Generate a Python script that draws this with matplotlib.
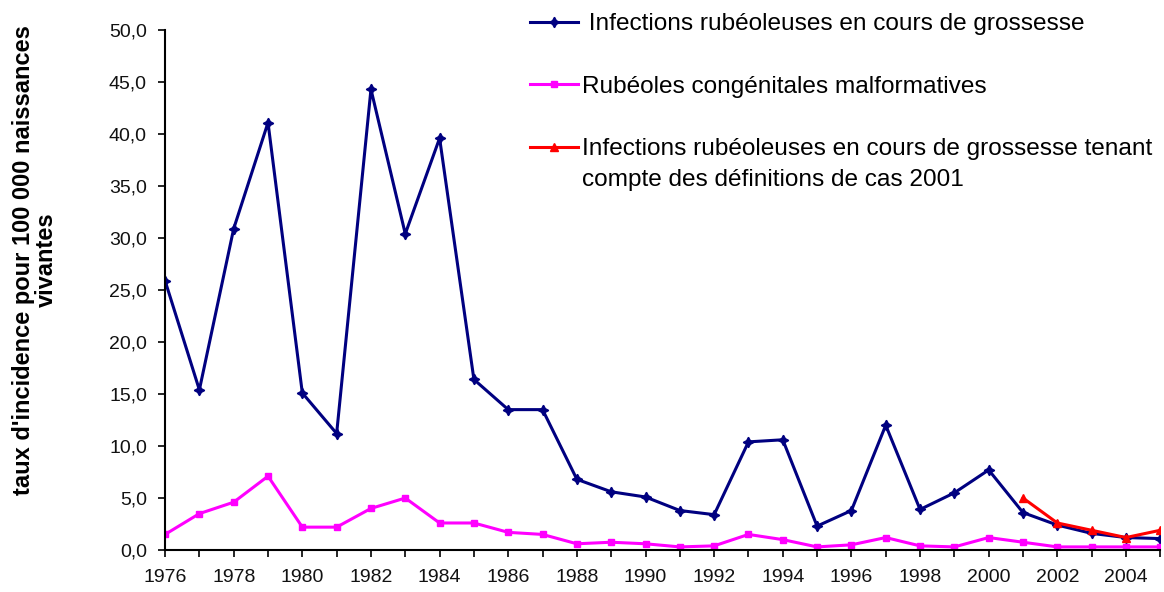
import matplotlib
matplotlib.use('Agg')
import matplotlib.pyplot as plt
from matplotlib.ticker import FuncFormatter, MultipleLocator
import numpy as np

plt.rcParams['font.family'] = ['Liberation Sans', 'DejaVu Sans']

years = list(range(1976, 2006))
infections = [25.9, 15.4, 30.9, 41.1, 15.1, 11.2, 44.3, 30.4, 39.6, 16.4,
              13.5, 13.5, 6.8, 5.6, 5.1, 3.8, 3.4, 10.4, 10.6, 2.3,
              3.8, 12.0, 3.9, 5.5, 7.7, 3.6, 2.4, 1.6, 1.2, 1.1]
congenitales = [1.5, 3.5, 4.6, 7.1, 2.2, 2.2, 4.0, 5.0, 2.6, 2.6,
                1.7, 1.5, 0.6, 0.75, 0.6, 0.3, 0.4, 1.5, 1.0, 0.3,
                0.5, 1.2, 0.4, 0.3, 1.2, 0.75, 0.3, 0.3, 0.3, 0.3]
years_2001 = [2001, 2002, 2003, 2004, 2005]
infections_2001 = [5.0, 2.6, 1.9, 1.2, 1.9]

labels = [' Infections rubéoleuses en cours de grossesse',
          'Rubéoles congénitales malformatives',
          'Infections rubéoleuses en cours de grossesse tenant']
label_suite = 'compte des définitions de cas 2001'

fig = plt.figure(figsize=(11.64, 5.92), dpi=100)
ax = fig.add_axes([0.1418, 0.0709, 0.855, 0.8784])

ax.plot(years, infections, color='#000080', lw=2.2, marker=(4, 1, 0), ms=7.5, label=labels[0])
ax.plot(years, congenitales, color='#FF00FF', lw=2.2, marker='s', ms=5, label=labels[1])
ax.plot(years_2001, infections_2001, color='#FF0000', lw=2.2, marker='^', ms=6, label=labels[2])

ax.set_xlim(1976, 2005)
ax.set_ylim(0, 50)
ax.xaxis.set_major_locator(MultipleLocator(2))
ax.xaxis.set_minor_locator(MultipleLocator(1))
ax.yaxis.set_major_locator(MultipleLocator(5))
ax.yaxis.set_major_formatter(FuncFormatter(lambda v, p: ('%.1f' % v).replace('.', ',')))
ax.tick_params(axis='both', which='both', direction='out', length=5, width=1.2, labelsize=14)
ax.tick_params(axis='x', pad=9)
ax.tick_params(axis='y', pad=8)
for s in ['top', 'right']:
    ax.spines[s].set_visible(False)
for s in ['left', 'bottom']:
    ax.spines[s].set_linewidth(1.5)
for lbl in ax.get_xticklabels() + ax.get_yticklabels():
    lbl.set_color('#111111')

fig.text(0.030, 0.561, "taux d'incidence pour 100 000 naissances\nvivantes",
         rotation=90, ha='center', va='center', fontsize=17, fontweight='bold',
         multialignment='center', linespacing=1.0)

leg = ax.legend(loc='upper left', bbox_to_anchor=(0.367, 1.032), frameon=False,
                fontsize=17.6, handlelength=1.96, handletextpad=0.17, labelspacing=1.65,
                borderaxespad=0, borderpad=0)

# second line of the third legend entry, just under its first line
fig.canvas.draw()
bb = leg.get_texts()[2].get_window_extent()
fig.text(bb.x0 / fig.bbox.width, (bb.y0 - 31) / fig.bbox.height, label_suite,
         fontsize=17.6, ha='left', va='bottom')

fig.savefig('out.png', dpi=100)
